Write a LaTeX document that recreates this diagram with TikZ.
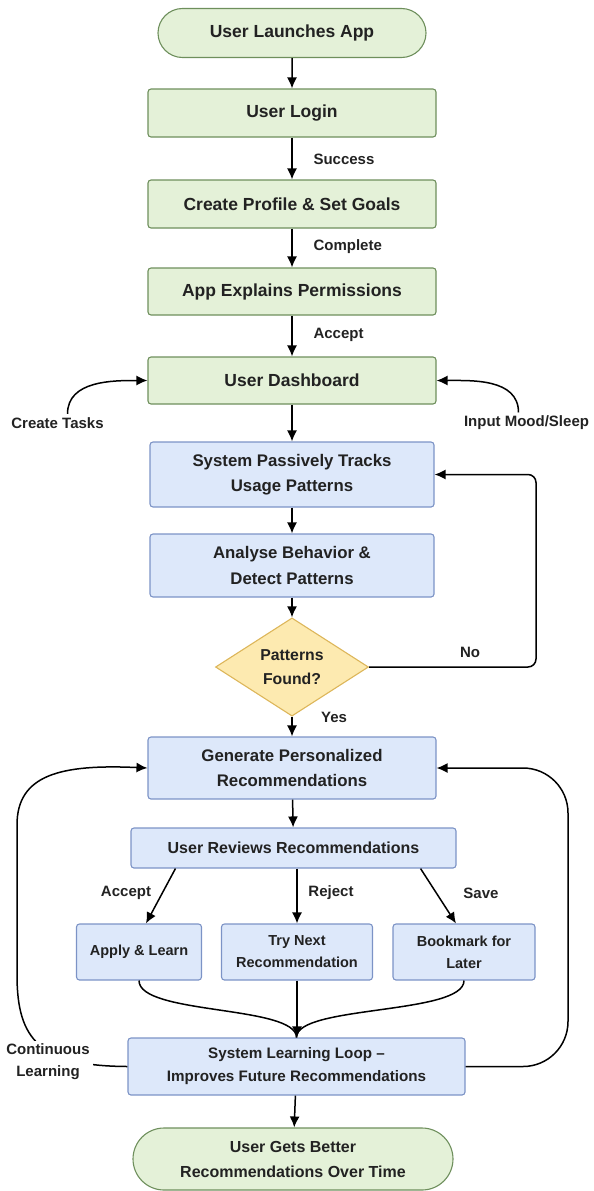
\documentclass[tikz,border=0pt]{standalone}
\usepackage{fontspec}
\setmainfont{Liberation Sans}
\usetikzlibrary{arrows.meta}
\usetikzlibrary{shapes.geometric}
\usetikzlibrary{shapes.misc}
\definecolor{ink}{HTML}{222222}
\definecolor{greenfill}{HTML}{E4F1D8}
\definecolor{greendraw}{HTML}{6E8F5C}
\definecolor{bluefill}{HTML}{DDE8FA}
\definecolor{bluedraw}{HTML}{7C93C6}
\definecolor{yellowfill}{HTML}{FDEAB0}
\definecolor{yellowdraw}{HTML}{DDB65A}
\tikzset{
    every node/.append style={text=ink},
    arrow/.style={line width=1.5pt, -{Latex[length=11pt,width=10pt]}},
    link/.style={line width=1.5pt},
    terminal/.style={rounded rectangle, draw=greendraw, fill=greenfill, line width=1.1pt,
        inner sep=0pt, align=center, font=\fontsize{16}{25}\selectfont\bfseries},
    process/.style={rectangle, rounded corners=3pt, draw=greendraw, fill=greenfill, line width=1.1pt,
        minimum width=288pt, minimum height=48pt, inner sep=0pt, align=center,
        font=\fontsize{17.5}{25}\selectfont\bfseries},
    system/.style={process, draw=bluedraw, fill=bluefill,
        font=\fontsize{16.8}{25.5}\selectfont\bfseries},
    choice/.style={system, minimum width=125pt, minimum height=56pt,
        font=\fontsize{14.5}{22}\selectfont\bfseries},
    decision/.style={diamond, draw=yellowdraw, fill=yellowfill, line width=1.1pt, inner sep=0pt,
        minimum width=153pt, minimum height=89pt, align=center,
        font=\fontsize{15.8}{24}\selectfont\bfseries},
    note/.style={align=center, font=\fontsize{15}{22}\selectfont\bfseries},
}

\begin{document}
\begin{tikzpicture}[x=1pt,y=-1pt]
  \useasboundingbox (0,0) rectangle (594,1191);

  % nodes
  \node[terminal, minimum width=268pt, minimum height=49pt, font=\fontsize{17.5}{25}\selectfont\bfseries] (start) at (292,33) {User Launches App};
  \node[process] (login) at (292,113) {User Login};
  \node[process] (profile) at (292,204) {Create Profile \& Set Goals};
  \node[process, minimum height=47pt] (perm) at (292,291.5) {App Explains Permissions};
  \node[process, minimum height=47pt] (dash) at (292,380.5) {User Dashboard};
  \node[system, minimum width=284pt, minimum height=65pt] (track) at (292,474.5) {System Passively Tracks\\Usage Patterns};
  \node[system, minimum width=284pt, minimum height=63pt] (analyse) at (292,565.5) {Analyse Behavior \&\\Detect Patterns};
  \node[decision] (found) at (292,667) {Patterns\\Found?};
  \node[system, minimum height=62pt] (gen) at (292,768) {Generate Personalized\\Recommendations};
  \node[system, minimum width=325pt, minimum height=40pt, font=\fontsize{16}{24}\selectfont\bfseries] (review) at (293.5,848) {User Reviews Recommendations};
  \node[choice] (apply) at (139,952) {Apply \& Learn};
  \node[choice, minimum width=151pt] (trynext) at (297,952) {Try Next\\Recommendation};
  \node[choice, minimum width=142pt] (bookmark) at (464,952) {Bookmark for\\Later};
  \node[system, minimum width=337pt, minimum height=57pt, font=\fontsize{15.2}{23}\selectfont\bfseries] (learn) at (296.5,1066.5) {System Learning Loop --\\Improves Future Recommendations};
  \node[terminal, minimum width=320pt, minimum height=62pt] (finish) at (293,1159) {User Gets Better\\Recommendations Over Time};

  % side inputs
  \node[note] (tasks) at (57.5,423) {Create Tasks};
  \node[note] (mood) at (526.5,423) {Input Mood/Sleep};

  % edges
  \draw[arrow] (start) -- (login);
  \draw[arrow] (login) -- (profile);
  \draw[arrow] (profile) -- (perm);
  \draw[arrow] (perm) -- (dash);
  \draw[arrow] (dash) -- (track);
  \draw[arrow] (track) -- (analyse);
  \draw[arrow] (analyse) -- (found);
  \draw[arrow] (found) -- (gen);
  \draw[arrow] (gen) -- (review);
  \draw[arrow] ([xshift=10pt]tasks.north) to[out=90,in=180] (dash.west);
  \draw[arrow] ([xshift=-8pt]mood.north) to[out=90,in=0] (dash.east);
  \draw[arrow, rounded corners=8pt] (found.east) -- (536,667) -- (536,474.5) -- (track.east);
  \draw[arrow] ([xshift=45pt]review.south west) -- ([xshift=7pt]apply.north);
  \draw[arrow] (review.south -| trynext) -- (trynext.north);
  \draw[arrow] ([xshift=-36pt]review.south east) -- ([xshift=-8pt]bookmark.north);
  \draw[link] (apply.south) .. controls (139,1015) and (296,1005) .. (learn.north);
  \draw[link] (bookmark.south) .. controls (464,1015) and (296,1005) .. (learn.north);
  \draw[arrow] (trynext.south) -- (trynext.south |- learn.north);
  \draw[arrow] (learn) -- (finish);
  \draw[arrow] (learn.west) .. controls (40,1066) and (17,1040) .. (17,975)
      -- (17,825) .. controls (17,775) and (60,764) .. (gen.west);
  \draw[arrow, rounded corners=45pt] (learn.east) -- (568,1066.5) -- (568,768) -- (gen.east);

  % edge labels
  \node[note, anchor=west] (success) at (310,159) {Success};
  \node[note, anchor=west] (complete) at (310,247) {Complete};
  \node[note, anchor=west] (accept) at (310,335) {Accept};
  \node[note] (no) at (470,652) {No};
  \node[note] (yes) at (334,717) {Yes};
  \node[note] (acc) at (126,893) {Accept};
  \node[note] (rej) at (331,893) {Reject};
  \node[note] (save) at (481,893) {Save};
  \node[note, fill=white] (cont) at (48,1062) {Continuous\\Learning};
\end{tikzpicture}
\end{document}
